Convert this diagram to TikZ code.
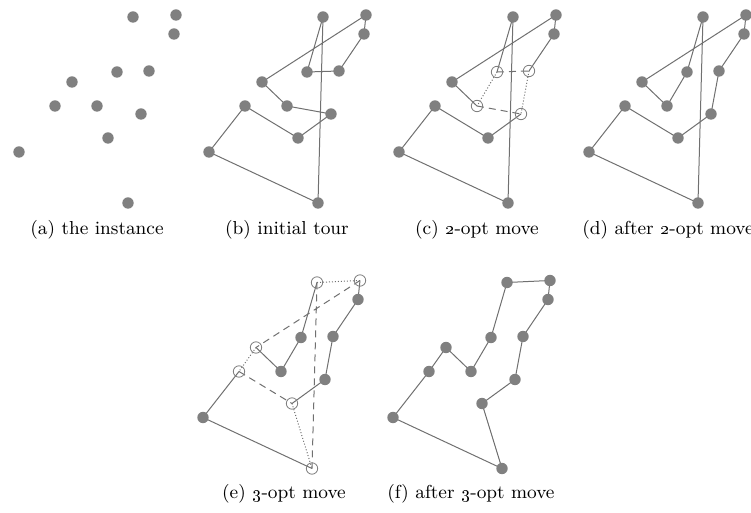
\documentclass[tikz,border=0pt]{standalone}
\usepackage{tikz}
\definecolor{citygray}{RGB}{128,128,128}
\definecolor{edgegray}{RGB}{112,112,112}

\tikzset{
  city/.style={circle, fill=citygray, inner sep=0pt, minimum size=5.7pt},
  freed/.style={circle, draw=citygray, line width=0.4pt, inner sep=0pt, minimum size=5.7pt},
  tour/.style={draw=edgegray, line width=0.5pt},
  removed/.style={tour, dash pattern=on 3.5pt off 2.5pt},
  added/.style={tour, dash pattern=on 0.5pt off 1pt},
  caption/.style={font=\fontsize{9.4}{11}\selectfont}
}

% the twelve cities of one panel, named #11 ... #112
\newcommand{\placecities}[3]{%
  \foreach \n/\px/\py in {1/133/17, 2/176/15, 3/174/34, 4/117/72, 5/149/71, 6/72/82,
                          7/55/106, 8/97/106, 9/141/114, 10/108/138, 11/19/152, 12/128/203}
    \coordinate (#1\n) at (#2+\px, #3+\py);}

\begin{document}
\begin{tikzpicture}[x=0.5pt, y=-0.5pt]
  \useasboundingbox (0,0) rectangle (751,513);

  % (a) the instance
  \placecities{a}{0}{0}
  \foreach \n in {1,...,12} \node[city] (adot\n) at (a\n) {};
  \node[caption] (capa) at (97,230) {(a) the instance};

  % (b) initial tour
  \placecities{b}{190}{0}
  \draw[tour] (b1) -- (b4) -- (b5) -- (b3) -- (b2) -- (b6) -- (b8) -- (b9)
    -- (b10) -- (b7) -- (b11) -- (b12) -- cycle;
  \foreach \n in {1,...,12} \node[city] (bdot\n) at (b\n) {};
  \node[caption] (capb) at (287,230) {(b) initial tour};

  % (c) 2-opt move
  \placecities{c}{380}{0}
  \draw[tour] (c4) -- (c1) -- (c12) -- (c11) -- (c7) -- (c10) -- (c9);
  \draw[tour] (c5) -- (c3) -- (c2) -- (c6) -- (c8);
  \draw[removed] (c4) -- (c5) (c8) -- (c9);
  \draw[added] (c4) -- (c8) (c5) -- (c9);
  \foreach \n in {1,2,3,6,7,10,11,12} \node[city] (cdot\n) at (c\n) {};
  \foreach \n in {4,5,8,9} \node[freed] (cdot\n) at (c\n) {};
  \node[caption] (capc) at (477,230) {(c) \oldstylenums{2}-opt move};

  % (d) after 2-opt move
  \placecities{d}{570}{0}
  \draw[tour] (d1) -- (d4) -- (d8) -- (d6) -- (d2) -- (d3) -- (d5) -- (d9)
    -- (d10) -- (d7) -- (d11) -- (d12) -- cycle;
  \foreach \n in {1,...,12} \node[city] (ddot\n) at (d\n) {};
  \node[caption] (capd) at (668,230) {(d) after \oldstylenums{2}-opt move};

  % (e) 3-opt move
  \placecities{e}{184}{265.5}
  \draw[tour] (e1) -- (e4) -- (e8) -- (e6);
  \draw[tour] (e2) -- (e3) -- (e5) -- (e9) -- (e10);
  \draw[tour] (e7) -- (e11) -- (e12);
  \draw[removed] (e2) -- (e6) (e7) -- (e10) (e1) -- (e12);
  \draw[added] (e1) -- (e2) (e6) -- (e7) (e10) -- (e12);
  \foreach \n in {3,4,5,8,9,11} \node[city] (edot\n) at (e\n) {};
  \foreach \n in {1,2,6,7,10,12} \node[freed] (edot\n) at (e\n) {};
  \node[caption] (cape) at (284,494) {(e) \oldstylenums{3}-opt move};

  % (f) after 3-opt move
  \placecities{f}{374}{265.5}
  \draw[tour] (f1) -- (f2) -- (f3) -- (f5) -- (f9) -- (f10) -- (f12) -- (f11)
    -- (f7) -- (f6) -- (f8) -- (f4) -- cycle;
  \foreach \n in {1,...,12} \node[city] (fdot\n) at (f\n) {};
  \node[caption] (capf) at (471,494) {(f) after \oldstylenums{3}-opt move};
\end{tikzpicture}
\end{document}
